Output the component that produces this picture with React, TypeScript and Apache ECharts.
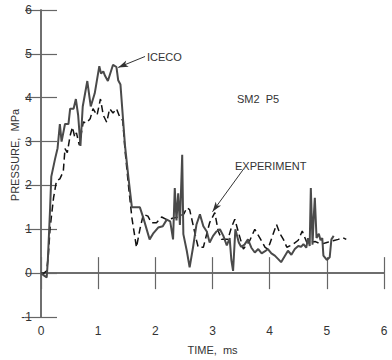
import React, { useEffect, useRef } from "react";
import * as echarts from "echarts";

const xTicks = [0, 1, 2, 3, 4, 5, 6];
const yTicks = [-1, 0, 1, 2, 3, 4, 5, 6];

// ICECO (solid) — [time ms, pressure MPa]
const icecoTime = [0, 0.05, 0.1, 0.12, 0.16, 0.18, 0.245, 0.29, 0.33, 0.36, 0.42, 0.48, 0.51, 0.57, 0.61, 0.65, 0.69, 0.73, 0.81, 0.87, 0.94, 1.02, 1.05, 1.09, 1.12, 1.17, 1.26, 1.32, 1.35, 1.39, 1.47, 1.53, 1.59, 1.73, 1.79, 1.9, 1.96, 2.05, 2.13, 2.2, 2.26, 2.31, 2.34, 2.37, 2.4, 2.43, 2.47, 2.49, 2.55, 2.6, 2.66, 2.72, 2.78, 2.84, 2.9, 2.95, 3.01, 3.07, 3.13, 3.19, 3.25, 3.3, 3.33, 3.36, 3.4, 3.46, 3.5, 3.56, 3.62, 3.68, 3.74, 3.8, 3.86, 3.92, 3.97, 4.03, 4.09, 4.15, 4.2, 4.26, 4.32, 4.38, 4.44, 4.5, 4.55, 4.59, 4.64, 4.67, 4.7, 4.72, 4.75, 4.77, 4.79, 4.82, 4.86, 4.89, 4.92, 4.94, 5.0, 5.05, 5.08, 5.12];
const icecoPressure = [0, -0.05, -0.1, 0.3, 1.5, 2.2, 2.6, 2.85, 3.4, 3.0, 3.4, 3.4, 3.75, 3.75, 3.97, 3.6, 2.9, 3.8, 4.38, 3.8, 4.1, 4.72, 4.55, 4.6, 4.5, 4.38, 4.75, 4.7, 4.4, 4.3, 2.9, 2.17, 1.5, 1.5, 1.26, 0.77, 0.9, 1.04, 1.07, 1.22, 1.18, 0.77, 1.94, 1.2, 1.82, 1.1, 2.7, 0.89, 0.51, 0.13, 0.59, 1.11, 1.34, 1.07, 0.95, 0.7, 0.85, 0.95, 1.0, 0.85, 0.63, 0.8, 0.3, 0.05, 1.0, 0.7, 0.6, 0.65, 0.77, 0.58, 0.47, 0.55, 0.45, 0.5, 0.55, 0.45, 0.4, 0.32, 0.25, 0.38, 0.51, 0.42, 0.55, 0.62, 0.6, 0.66, 0.58, 0.8, 0.62, 1.94, 0.65, 1.26, 1.72, 0.8, 0.9, 0.75, 0.8, 0.4, 0.3, 0.36, 0.77, 0.85];

// EXPERIMENT (dashed)
const expTime = [0, 0.05, 0.1, 0.13, 0.16, 0.22, 0.27, 0.33, 0.39, 0.42, 0.46, 0.51, 0.55, 0.59, 0.62, 0.67, 0.74, 0.79, 0.86, 0.91, 0.98, 1.04, 1.09, 1.15, 1.2, 1.26, 1.32, 1.38, 1.43, 1.47, 1.53, 1.59, 1.67, 1.73, 1.79, 1.87, 1.93, 2.02, 2.11, 2.2, 2.3, 2.4, 2.5, 2.55, 2.6, 2.66, 2.72, 2.75, 2.84, 2.9, 2.95, 3.04, 3.1, 3.16, 3.27, 3.33, 3.39, 3.46, 3.54, 3.65, 3.74, 3.83, 3.92, 3.97, 4.05, 4.12, 4.18, 4.24, 4.3, 4.4, 4.5, 4.57, 4.65, 4.8, 4.9, 5.0, 5.11, 5.2, 5.28, 5.34];
const expPressure = [0, 0, 0.05, 0.44, 1.04, 1.72, 2.1, 2.15, 2.32, 2.84, 2.75, 3.14, 3.33, 3.1, 3.2, 2.92, 3.45, 3.42, 3.52, 3.75, 3.6, 3.97, 3.6, 3.44, 3.75, 3.65, 3.75, 3.55, 3.48, 2.8, 2.0, 1.26, 0.59, 1.0, 1.34, 1.3, 1.15, 1.15, 1.28, 1.22, 1.25, 1.28, 1.35, 1.49, 1.45, 1.1, 0.75, 0.59, 0.59, 0.9, 1.15, 1.38, 0.96, 0.77, 0.77, 1.04, 1.23, 0.9, 0.55, 0.74, 1.0, 0.8, 0.59, 0.55, 0.85, 1.11, 0.9, 0.77, 0.59, 0.65, 0.75, 0.96, 0.7, 0.72, 0.66, 0.7, 0.74, 0.77, 0.81, 0.77];

const FONT = "Liberation Sans";
const TXT = "#333";
const AX = "#666";

export default function App() {
  const ref = useRef<HTMLDivElement>(null);
  useEffect(() => {
    if (!ref.current) return;
    const chart = echarts.init(ref.current, undefined, { renderer: "svg" });
    const icecoData = icecoTime.map((t, i) => [t, icecoPressure[i]]);
    const expData = expTime.map((t, i) => [t, expPressure[i]]);
    const axisCommon = {
      type: "value" as const,
      interval: 1,
      axisLine: { show: true, lineStyle: { color: AX, width: 1.5 } },
      axisTick: { show: true, inside: true, length: 16, lineStyle: { color: AX, width: 1.2 } },
      splitLine: { show: false },
    };
    chart.setOption({
      animation: false,
      grid: { left: 41, right: 8, top: 10, bottom: 41 },
      xAxis: [
        {
          ...axisCommon,
          min: xTicks[0],
          max: xTicks[xTicks.length - 1],
          position: "bottom",
          axisLabel: { margin: 8, fontSize: 12, color: TXT, fontFamily: FONT },
          name: "TIME,  ms",
          nameLocation: "middle",
          nameGap: 27,
          nameTextStyle: { fontSize: 11, color: TXT, fontFamily: FONT },
        },
        {
          ...axisCommon,
          min: xTicks[0],
          max: xTicks[xTicks.length - 1],
          position: "top",
          axisLabel: { show: false },
        },
      ],
      yAxis: [
        {
          ...axisCommon,
          min: yTicks[0],
          max: yTicks[yTicks.length - 1],
          position: "left",
          axisLabel: { margin: 9, fontSize: 12, color: TXT, fontFamily: FONT },
        },
        {
          ...axisCommon,
          min: yTicks[0],
          max: yTicks[yTicks.length - 1],
          position: "right",
          axisLabel: { show: false },
        },
      ],
      graphic: [
        {
          type: "text",
          x: 15,
          y: 155,
          rotation: Math.PI / 2,
          style: {
            text: "PRESSURE,  MPa",
            fill: TXT,
            font: `11px "${FONT}"`,
            textAlign: "center",
            textVerticalAlign: "middle",
          },
        },
        {
          type: "text",
          x: 147,
          y: 57,
          style: { text: "ICECO", fill: TXT, font: `11px "${FONT}"`, textAlign: "left", textVerticalAlign: "middle" },
        },
        {
          type: "text",
          x: 237,
          y: 99,
          style: { text: "SM2  P5", fill: TXT, font: `11px "${FONT}"`, textAlign: "left", textVerticalAlign: "middle" },
        },
        {
          type: "text",
          x: 235,
          y: 166,
          style: { text: "EXPERIMENT", fill: TXT, font: `11px "${FONT}"`, textAlign: "left", textVerticalAlign: "middle" },
        },
      ],
      series: [
        {
          name: "EXPERIMENT",
          type: "line",
          data: expData,
          showSymbol: false,
          lineStyle: { color: "#111", width: 1.5, type: [7, 4] },
          silent: true,
        },
        {
          name: "ICECO",
          type: "line",
          data: icecoData,
          showSymbol: false,
          lineStyle: { color: "#4a4a4a", width: 2 },
          silent: true,
          markLine: {
            silent: true,
            symbol: ["none", "arrow"],
            symbolSize: [5, 10],
            label: { show: false },
            lineStyle: { color: "#333", width: 1, type: "solid" },
            data: [
              [{ coord: [1.82, 4.94] }, { coord: [1.35, 4.69] }],
              [{ coord: [3.53, 2.35] }, { coord: [3.0, 1.4] }],
            ],
          },
        },
      ],
    });
    return () => chart.dispose();
  }, []);
  return (
    <div
      ref={ref}
      style={{ position: "fixed", left: 0, top: 0, width: 392, height: 360, background: "#fff" }}
    />
  );
}
